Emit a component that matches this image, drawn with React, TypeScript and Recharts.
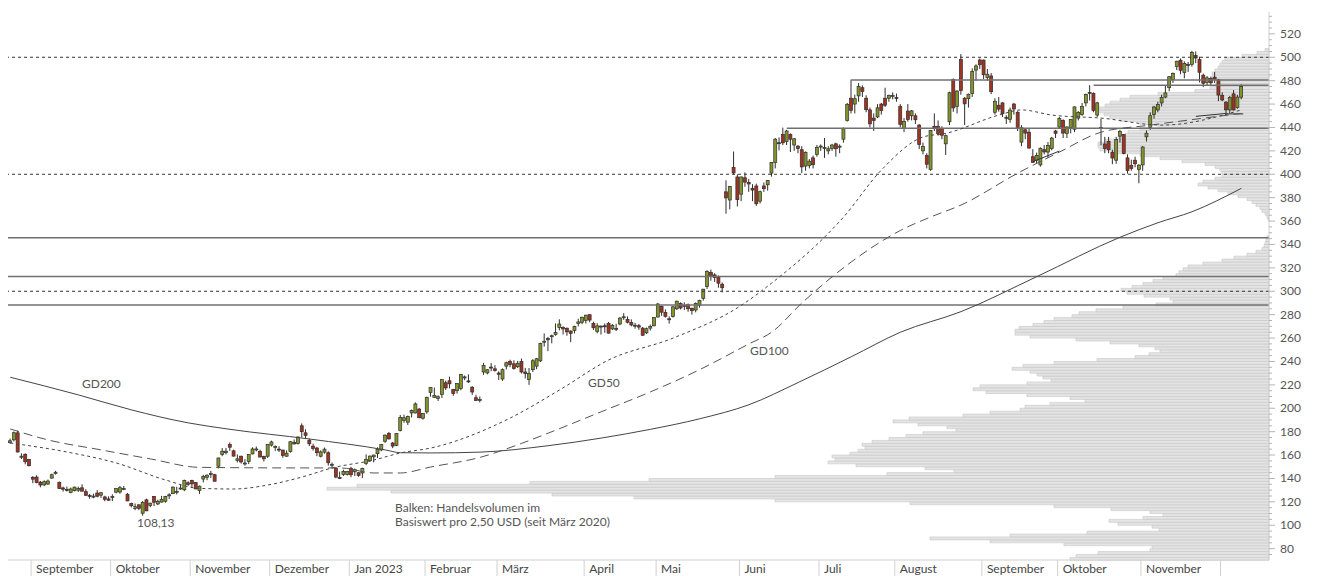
import React from 'react';
import {
  ComposedChart,
  Bar,
  Line,
  XAxis,
  YAxis,
  ReferenceLine,
  ReferenceArea,
} from 'recharts';

// Tageskerzen [open, high, low, close], ein Array pro Monat
const aug22 = [
  [170.6, 174.1, 169.7, 172.2], [173.0, 180.1, 171.6, 179.1], [179.0, 180.9, 162.3, 162.6],
  [158.6, 161.4, 156.6, 159.0], [160.7, 161.4, 152.1, 154.3], [156.2, 156.6, 150.3, 150.9],
];
const sep22 = [
  [141.0, 142.0, 136.0, 139.4], [141.2, 142.7, 135.9, 136.5], [136.9, 137.8, 132.4, 134.4],
  [134.5, 138.4, 133.4, 137.2], [135.2, 139.1, 134.6, 137.8], [140.3, 144.1, 139.8, 143.2],
  [144.2, 146.5, 143.3, 145.3], [136.7, 137.4, 131.2, 131.3], [131.9, 133.0, 128.8, 130.8],
  [130.7, 133.1, 128.8, 129.9], [128.1, 132.2, 127.3, 131.0], [129.5, 133.0, 129.0, 132.6],
  [130.0, 133.0, 128.5, 131.3], [132.0, 135.0, 129.0, 129.1], [128.7, 130.8, 125.1, 125.6],
  [125.5, 126.8, 122.6, 125.2], [124.4, 127.0, 123.1, 124.9], [127.5, 130.0, 123.9, 124.8],
  [125.7, 128.3, 123.4, 127.8], [124.2, 125.2, 120.5, 122.2], [122.5, 124.7, 120.8, 121.4],
];
const oct22 = [
  [123.7, 126.4, 120.6, 124.5], [128.3, 131.5, 127.2, 131.3], [128.4, 133.5, 126.9, 132.1],
  [130.7, 133.5, 130.0, 131.4], [126.5, 127.5, 120.6, 120.8], [118.5, 119.3, 115.3, 116.7],
  [114.4, 118.6, 112.9, 115.9], [117.5, 117.6, 112.9, 114.5], [110.3, 120.6, 108.13, 119.6],
  [121.7, 122.7, 112.1, 112.3], [116.9, 119.2, 115.4, 118.9], [124.7, 125.0, 116.4, 119.7],
  [118.2, 121.9, 117.2, 120.5], [119.8, 125.1, 119.4, 121.9], [120.5, 125.1, 119.3, 124.7],
  [125.2, 127.4, 122.4, 126.0], [127.0, 133.2, 126.7, 132.6], [128.5, 132.9, 126.3, 129.0],
  [131.8, 134.9, 130.3, 131.8], [130.3, 139.0, 129.1, 138.3], [136.3, 137.6, 133.7, 135.0],
];
const nov22 = [
  [138.3, 138.9, 132.6, 135.4], [136.5, 136.8, 130.9, 131.0], [129.7, 134.0, 126.8, 133.4],
  [139.5, 143.1, 136.6, 141.6], [141.0, 143.5, 138.5, 142.8], [143.5, 146.5, 140.5, 144.3],
  [143.2, 144.0, 137.4, 137.6], [150.5, 157.8, 148.6, 157.5], [160.6, 166.0, 159.0, 163.3],
  [162.0, 166.0, 160.5, 163.3], [169.0, 170.8, 163.6, 166.7], [163.6, 164.6, 158.7, 159.1],
  [155.5, 160.5, 153.7, 156.8], [159.0, 159.5, 152.7, 154.1], [153.2, 156.5, 150.9, 153.2],
  [154.5, 160.6, 152.3, 160.4], [161.0, 166.6, 160.6, 165.2], [164.5, 167.3, 163.2, 165.2],
  [163.2, 164.6, 158.1, 158.3], [158.9, 159.5, 154.5, 156.8], [159.0, 169.4, 157.5, 169.2],
];
const dec22 = [
  [168.5, 172.3, 167.3, 171.2], [166.8, 168.3, 163.6, 167.3], [165.1, 167.5, 162.6, 164.5],
  [164.3, 164.5, 157.7, 159.7], [159.0, 164.0, 158.5, 161.6], [163.0, 172.0, 162.0, 171.4],
  [170.9, 173.3, 169.1, 169.5], [170.0, 176.0, 169.0, 175.4], [185.0, 187.0, 175.0, 180.0],
  [179.0, 182.0, 174.5, 176.8], [172.5, 174.2, 167.6, 169.6], [167.6, 169.7, 163.8, 165.6],
  [166.0, 167.0, 159.0, 162.0], [159.0, 164.0, 158.0, 162.7], [162.5, 166.4, 161.2, 165.0],
  [162.0, 163.2, 150.9, 153.4], [152.0, 153.6, 148.6, 152.1], [148.8, 149.5, 140.2, 141.2],
  [140.7, 145.9, 139.7, 140.4], [143.4, 147.5, 142.1, 146.0], [143.5, 146.2, 142.5, 146.1],
];
const jan23 = [
  [148.5, 150.0, 141.0, 143.2], [145.7, 148.5, 142.0, 147.5], [144.9, 145.3, 141.4, 142.6],
  [144.7, 149.2, 140.3, 148.6], [152.8, 160.6, 151.4, 156.3], [155.1, 159.6, 154.1, 159.1],
  [158.5, 160.3, 153.7, 160.0], [161.2, 166.6, 157.5, 165.1], [164.4, 169.3, 163.2, 169.0],
  [171.8, 177.6, 170.4, 177.0], [178.5, 179.8, 173.3, 173.8], [170.3, 171.1, 165.9, 167.7],
  [168.3, 178.6, 167.6, 178.4], [180.9, 194.3, 180.2, 192.2], [189.5, 194.5, 187.6, 191.9],
  [188.1, 193.7, 185.7, 193.1], [196.0, 199.0, 192.1, 198.0], [196.0, 205.0, 195.6, 203.7],
  [199.3, 200.3, 191.5, 191.9], [191.5, 196.0, 190.3, 195.4],
];
const feb23 = [
  [196.9, 209.8, 195.3, 209.4], [213.5, 218.0, 209.9, 217.9], [209.2, 217.7, 209.2, 211.0],
  [208.4, 211.0, 206.2, 209.9], [211.9, 224.8, 208.8, 224.5], [221.8, 223.6, 215.7, 217.4],
  [223.5, 227.0, 217.0, 220.9], [216.0, 216.6, 210.6, 212.6], [215.0, 221.5, 212.5, 221.3],
  [216.9, 229.4, 215.4, 228.9], [226.3, 228.0, 224.0, 226.8], [223.4, 229.0, 221.6, 222.8],
  [218.0, 218.9, 211.4, 213.9], [209.0, 211.5, 206.5, 206.6], [207.0, 210.0, 205.0, 207.5],
  [231.0, 238.8, 228.5, 236.6], [230.2, 233.4, 229.0, 232.9], [235.2, 238.6, 231.6, 234.4],
  [233.7, 236.8, 231.3, 232.2],
];
const mar23 = [
  [230.1, 231.6, 224.2, 229.0], [225.0, 234.0, 223.5, 233.0], [236.0, 239.9, 233.2, 238.9],
  [240.0, 241.5, 235.1, 237.3], [238.0, 241.0, 233.0, 234.0], [235.5, 240.5, 234.4, 238.5],
  [240.0, 242.5, 229.7, 231.0], [231.0, 234.5, 225.5, 229.6], [224.5, 234.4, 220.0, 229.6],
  [233.0, 242.0, 231.0, 240.6], [236.0, 243.0, 233.4, 242.3], [240.5, 256.0, 239.5, 255.4],
  [256.5, 263.9, 252.7, 257.3], [259.5, 261.0, 248.8, 258.5], [261.5, 263.0, 255.5, 262.0],
  [263.0, 272.5, 262.0, 264.7], [269.0, 276.0, 266.6, 272.0], [269.0, 270.0, 263.0, 267.8],
  [268.4, 269.0, 262.0, 265.3], [266.0, 266.5, 256.5, 264.0], [266.5, 270.5, 264.0, 269.8],
  [272.5, 276.5, 270.0, 273.8], [273.5, 278.3, 271.8, 277.8],
];
const apr23 = [
  [275.0, 279.8, 272.4, 279.6], [280.0, 280.2, 273.5, 275.4], [272.4, 274.0, 266.9, 268.8],
  [265.5, 272.7, 264.0, 270.4], [270.3, 270.5, 263.0, 269.4], [270.5, 272.5, 264.5, 270.3],
  [272.5, 273.7, 263.8, 264.2], [267.8, 272.0, 266.8, 270.9], [268.2, 272.2, 266.0, 268.3],
  [272.0, 278.0, 271.0, 277.0], [278.0, 281.3, 275.5, 278.2], [276.0, 278.5, 272.6, 273.5],
  [273.4, 276.0, 270.0, 271.2], [271.0, 273.0, 268.0, 270.5], [270.6, 272.0, 267.0, 269.4],
  [268.5, 269.5, 262.0, 262.4], [264.5, 269.0, 263.5, 268.0], [268.5, 271.5, 266.5, 270.0],
  [270.5, 277.8, 270.0, 277.5],
];
const may23 = [
  [278.0, 290.0, 277.5, 289.1], [287.0, 288.0, 279.0, 282.1], [282.0, 284.5, 277.5, 278.5],
  [276.5, 278.5, 272.4, 275.9], [278.5, 287.5, 277.5, 286.7], [285.0, 292.0, 284.0, 291.5],
  [289.5, 290.5, 284.5, 285.7], [288.0, 290.5, 284.0, 287.6], [288.5, 289.5, 282.5, 285.0],
  [285.5, 286.0, 280.0, 283.4], [284.0, 290.5, 282.0, 289.5], [288.0, 292.7, 286.0, 292.1],
  [294.0, 302.0, 292.0, 301.8], [304.0, 318.0, 302.0, 316.8], [316.0, 318.5, 309.0, 312.6],
  [314.0, 315.5, 308.0, 311.8], [312.0, 313.5, 303.0, 306.9], [306.0, 307.5, 299.0, 303.0],
  [385.0, 394.8, 366.3, 379.8], [378.0, 390.0, 370.0, 389.5], [405.9, 419.4, 400.0, 401.1],
  [397.7, 400.0, 372.5, 378.3],
];
const jun23 = [
  [383.0, 398.0, 377.0, 397.7], [397.0, 401.6, 389.3, 393.3], [393.0, 396.0, 385.0, 391.7],
  [388.0, 391.5, 377.0, 386.5], [390.0, 392.0, 373.0, 374.8], [377.0, 386.0, 375.0, 385.1],
  [390.0, 393.0, 385.0, 387.7], [391.0, 395.0, 386.0, 394.8], [401.0, 410.5, 398.0, 410.2],
  [410.0, 431.0, 405.0, 430.0], [427.0, 431.5, 420.4, 426.5], [434.0, 439.9, 425.0, 426.9],
  [428.0, 438.0, 425.0, 437.0], [434.0, 435.0, 419.0, 430.0], [425.0, 431.0, 420.0, 430.3],
  [424.0, 425.0, 418.0, 422.1], [421.0, 424.0, 401.0, 406.3], [407.0, 419.5, 403.0, 418.8],
  [407.5, 413.0, 405.0, 411.2], [414.0, 416.0, 405.0, 408.2], [417.0, 425.0, 415.0, 423.0],
];
const jul23 = [
  [424.0, 425.5, 420.0, 424.1], [422.0, 431.0, 414.0, 423.0], [420.0, 424.0, 417.0, 421.8],
  [422.0, 426.0, 420.0, 425.0], [426.0, 427.0, 415.0, 421.8], [424.0, 425.5, 418.0, 424.0],
  [430.0, 440.0, 427.0, 438.9], [446.0, 461.0, 445.0, 459.8], [465.0, 480.9, 452.0, 454.7],
  [460.0, 468.0, 452.0, 464.6], [467.0, 478.0, 462.0, 474.9], [474.0, 476.0, 466.0, 470.8],
  [465.0, 467.5, 453.0, 455.2], [455.0, 457.0, 440.0, 443.1], [448.0, 452.0, 437.0, 446.1],
  [449.0, 460.0, 448.0, 456.8], [460.0, 461.0, 451.0, 454.5], [465.0, 474.0, 457.5, 459.0],
  [465.0, 468.0, 462.0, 467.5], [467.0, 470.0, 464.0, 467.3],
];
const aug23 = [
  [465.5, 469.0, 462.0, 465.1], [458.0, 460.0, 440.0, 442.7], [439.0, 448.0, 436.0, 445.2],
  [454.0, 460.0, 445.0, 446.8], [450.0, 455.0, 446.0, 454.2], [450.0, 452.0, 443.0, 446.6],
  [442.0, 443.0, 421.5, 425.5], [420.0, 427.0, 417.0, 423.9], [416.0, 418.0, 405.0, 408.6],
  [404.0, 437.9, 403.0, 437.5], [441.0, 452.0, 437.0, 439.4], [441.0, 446.0, 433.0, 434.9],
  [439.0, 441.0, 430.0, 433.4], [426.0, 434.0, 416.5, 433.0], [444.9, 470.6, 442.0, 469.7],
  [481.0, 481.9, 453.4, 456.7], [458.0, 471.6, 452.0, 471.2], [498.0, 502.7, 468.0, 471.6],
  [465.0, 466.0, 442.0, 460.2], [464.6, 469.0, 457.0, 468.4], [469.0, 490.5, 466.0, 487.8],
  [489.0, 494.0, 480.0, 492.6], [497.7, 499.0, 490.0, 493.6],
];
const sep23 = [
  [497.6, 498.0, 481.5, 485.1], [482.6, 490.0, 480.0, 485.5], [484.0, 486.5, 468.5, 470.6],
  [453.0, 465.0, 451.0, 462.4], [459.0, 466.0, 453.5, 455.7], [461.0, 461.5, 449.0, 451.8],
  [448.0, 450.5, 443.0, 448.7], [447.0, 457.0, 444.0, 454.9], [460.0, 461.0, 451.0, 455.8],
  [453.0, 454.0, 437.0, 439.0], [427.5, 442.0, 424.0, 439.7], [438.0, 439.5, 430.0, 435.2],
  [436.0, 439.0, 422.0, 422.4], [415.0, 421.5, 410.0, 410.2], [412.0, 418.5, 409.0, 416.1],
  [408.0, 423.0, 406.5, 422.2], [421.0, 425.0, 417.0, 419.1], [419.0, 427.5, 414.0, 424.7],
  [422.0, 432.0, 420.5, 430.9], [437.0, 438.0, 431.0, 435.0],
];
const oct23 = [
  [440.3, 449.0, 439.0, 447.8], [446.0, 447.0, 431.0, 435.2], [435.0, 441.0, 431.0, 440.4],
  [440.0, 447.0, 435.0, 446.9], [438.5, 458.0, 436.0, 457.6], [448.0, 454.0, 446.0, 452.7],
  [451.0, 461.0, 450.0, 458.0], [461.0, 469.0, 458.0, 468.1], [470.0, 476.1, 463.0, 469.5],
  [469.0, 470.0, 453.0, 454.6], [450.6, 462.0, 449.0, 461.0], [440.0, 447.5, 424.8, 439.4],
  [425.9, 432.0, 418.0, 422.0], [428.0, 432.0, 418.0, 421.0], [418.9, 421.0, 408.6, 413.9],
  [412.0, 432.0, 409.0, 429.8], [432.6, 438.0, 427.0, 436.6], [434.0, 434.5, 417.0, 417.8],
  [414.0, 417.0, 400.5, 403.3], [407.5, 412.5, 403.0, 405.0], [412.0, 415.0, 406.0, 409.0],
  [404.0, 408.5, 392.3, 407.8],
];
const nov23 = [
  [408.0, 424.0, 403.0, 423.3], [432.0, 437.5, 428.0, 435.1], [440.0, 453.0, 438.0, 450.1],
  [451.0, 458.5, 447.5, 457.5], [455.0, 462.0, 453.0, 459.6], [461.0, 468.0, 458.0, 465.7],
  [466.0, 476.0, 465.0, 469.5], [474.0, 484.0, 471.0, 483.4], [481.0, 487.0, 478.0, 486.2],
  [492.0, 497.0, 489.0, 496.6], [497.5, 499.0, 485.5, 488.9], [487.0, 496.5, 482.0, 494.8],
  [494.0, 496.0, 487.5, 493.0], [494.0, 505.5, 492.0, 504.1], [501.5, 505.0, 495.0, 499.4],
  [498.0, 500.5, 478.5, 487.2], [484.7, 486.0, 474.5, 477.8], [478.4, 484.0, 476.0, 482.4],
  [482.0, 483.5, 475.5, 478.2], [483.0, 487.5, 478.0, 481.4], [480.8, 481.5, 462.5, 467.7],
];
const dec23 = [
  [467.5, 470.0, 462.5, 463.5], [461.6, 462.5, 450.0, 455.1], [455.0, 467.0, 452.0, 465.7],
  [468.7, 472.0, 454.5, 455.0], [457.0, 468.0, 456.0, 466.0], [465.9, 477.0, 464.0, 475.1],
];

const candles = [
  ...aug22, ...sep22, ...oct22, ...nov22, ...dec22, ...jan23, ...feb23, ...mar23, ...apr23,
  ...may23, ...jun23, ...jul23, ...aug23, ...sep23, ...oct23, ...nov23, ...dec23,
];

// erster Handelstag (Index) jedes Monats und Beschriftung
const monthStarts = [6, 27, 48, 69, 90, 110, 129, 152, 171, 193, 214, 234, 257, 277, 299, 320];
const monthLabels = [
  'September', 'Oktober', 'November', 'Dezember', 'Jan 2023', 'Februar', 'März', 'April',
  'Mai', 'Juni', 'Juli', 'August', 'September', 'Oktober', 'November', '',
];

const gd50Days = [0, 15, 28, 41, 50, 59, 68, 77, 85, 96, 103, 111, 132, 145, 158, 175, 193, 201, 220, 230, 241, 247, 261, 267, 275, 288, 304, 325];
const gd50Values = [170.3, 162.6, 153.2, 138.7, 131.5, 131, 134.4, 141.2, 149, 155.8, 161.8, 166, 191.7, 215.6, 241.3, 260, 288, 307, 363.5, 403.7, 431.9, 435, 450.6, 455, 450.6, 448, 442, 455];
const gd100Days = [0, 10, 24, 37, 50, 76, 87, 96, 103, 111, 124, 135, 143, 156, 169, 182, 195, 201, 209, 222, 235, 243, 251, 266, 277, 288, 301, 325];
const gd100Values = [182.3, 172.9, 164.4, 156.7, 149.5, 149, 149, 144.7, 144.7, 149.8, 158, 170, 180, 197, 214, 233, 255, 265, 290, 325, 352, 363.5, 373.7, 401, 419, 436, 442, 452];
const gd200Days = [0, 18, 32, 47, 58, 79, 99, 103, 111, 124, 142, 156, 169, 182, 195, 208, 222, 235, 251, 271, 293, 303, 312, 325];
const gd200Values = [226.5, 211.4, 198.6, 187.5, 182, 173.7, 164.4, 162, 161.8, 162.5, 168, 174.5, 182, 191, 203, 222, 244, 265, 282.6, 312.5, 346.2, 358.6, 368, 388];

// Handelsvolumen pro 2,50 USD ab 70 USD (relative Einheiten, Vollausschlag = 1261)
const volumeBase = 70;
const volumeStep = 2.5;
const volumeFull = 1261;
const volumeProfile = [
  199, 193, 171, 119, 117, 205, 279, 339, 259, 182, 110, 117, 151, 160, 126, 106, 119, 158, 215, 359,
  494, 635, 717, 878, 942, 912, 739, 620, 494, 382, 315, 344, 413, 441, 434, 437, 419, 411, 404, 407,
  397, 380, 363, 346, 313, 322, 351, 376, 360, 306, 279, 249, 244, 219, 184, 199, 242, 283, 296, 289,
  242, 218, 226, 232, 239, 257, 246, 215, 172, 134, 120, 109, 114, 130, 159, 193, 239, 254, 254, 250,
  236, 225, 215, 197, 190, 173, 146, 113, 96, 99, 125, 142, 148, 137, 126, 116, 106, 93, 90, 86,
  81, 66, 47, 35, 22, 13, 7, 5, 4, 3, 2, 0, 0, 0, 0, 0, 1, 2, 4, 7,
  9, 13, 17, 22, 31, 41, 51, 61, 71, 66, 54, 47, 47, 49, 54, 64, 87, 109, 129, 154,
  169, 171, 171, 164, 151, 144, 141, 129, 111, 129, 149, 159, 165, 169, 171, 164, 159, 149, 139, 111,
  74, 59, 54, 51, 54, 57, 57, 54, 51, 49, 47, 44, 27, 12, 4,
];

const yTicks: number[] = [];
for (let v = 75; v <= 535; v += 5) yTicks.push(v);

const data = candles.map(([o, h, l, c], i) => ({
  i, o, h, l, c,
  range: [l, h],
  gd50: null as number | null,
  gd100: null as number | null,
  gd200: null as number | null,
}));
gd50Days.forEach((d, k) => { data[d].gd50 = gd50Values[k]; });
gd100Days.forEach((d, k) => { data[d].gd100 = gd100Values[k]; });
gd200Days.forEach((d, k) => { data[d].gd200 = gd200Values[k]; });

const X_MIN = -0.6;
const X_MAX = 332.3;
// Volumenbalken wachsen vom rechten Rand nach links, auf der Zeitachse gemessen
const volToX = (v: number) => X_MAX - (v / volumeFull) * (X_MAX - X_MIN);

const Candle = (props: any) => {
  const { x, y, width, height, payload } = props;
  if (x == null || y == null || !payload) return null;
  const { o, h, l, c } = payload;
  const top = Math.min(y, y + height);
  const span = Math.abs(height);
  const k = h > l ? span / (h - l) : 0;
  const cx = x + width / 2;
  const yO = top + (h - o) * k;
  const yC = top + (h - c) * k;
  const up = c >= o;
  return (
    <g>
      <line x1={cx} x2={cx} y1={top} y2={top + span} stroke="#2e2e2e" strokeWidth={1} />
      <rect
        x={cx - 1.5}
        y={Math.min(yO, yC)}
        width={3}
        height={Math.max(Math.abs(yC - yO), 1)}
        fill={up ? '#84952a' : '#a3321f'}
        stroke="#2e2e2e"
        strokeWidth={0.7}
      />
    </g>
  );
};

const YTick = ({ x, y, payload }: any) => {
  const v = payload.value;
  const major = v % 20 === 0;
  return (
    <g>
      <line x1={x} x2={x + (major ? 6 : 3)} y1={y} y2={y} stroke="#b5b5b5" />
      {major && (
        <text x={x + 11} y={y + 4} fontSize={12} fill="#555">{v}</text>
      )}
    </g>
  );
};

const XTick = ({ x, y, payload }: any) => {
  const k = monthStarts.indexOf(payload.value + 0.5);
  return (
    <g>
      <line x1={x} x2={x} y1={y} y2={y + 18} stroke="#d0d0d0" />
      <text x={x + 5} y={y + 13} fontSize={12} fill="#444">{monthLabels[k]}</text>
    </g>
  );
};

const label = (left: number, top: number): React.CSSProperties => ({
  position: 'absolute', left, top, fontSize: 12, color: '#555', lineHeight: '14px', whiteSpace: 'nowrap',
});

export default function App() {
  return (
    <div style={{ position: 'absolute', left: 0, top: 0, width: 1341, height: 576, background: '#fff', fontFamily: 'Lato, "Open Sans", sans-serif', overflow: 'hidden' }}>
      <ComposedChart width={1341} height={576} data={data} margin={{ top: 12, right: 0, bottom: 0, left: 8 }}>
        <XAxis
          dataKey="i"
          type="number"
          domain={[X_MIN, X_MAX]}
          allowDataOverflow
          ticks={monthStarts.map((m) => m - 0.5)}
          interval={0}
          tick={<XTick />}
          tickLine={false}
          tickSize={0}
          tickMargin={0}
          height={16}
          axisLine={{ stroke: '#d0d0d0' }}
        />
        <YAxis
          orientation="right"
          type="number"
          domain={[70.3, 538.7]}
          allowDataOverflow
          ticks={yTicks}
          interval={0}
          tick={<YTick />}
          tickLine={false}
          tickSize={0}
          tickMargin={0}
          width={72}
          axisLine={{ stroke: '#cfcfcf' }}
        />

        {volumeProfile.map((v, k) =>
          v > 0 ? (
            <ReferenceArea
              key={`vp-${k}`}
              x1={volToX(v)}
              x2={X_MAX}
              y1={volumeBase + k * volumeStep}
              y2={volumeBase + (k + 1) * volumeStep}
              fill="#e4e4e4"
              fillOpacity={1}
              stroke="#c6c6c6"
              strokeWidth={0.6}
              ifOverflow="visible"
            />
          ) : null
        )}

        <ReferenceLine y={500} stroke="#333" strokeDasharray="3 3" />
        <ReferenceLine y={400} stroke="#333" strokeDasharray="3 3" />
        <ReferenceLine y={300} stroke="#333" strokeDasharray="3 3" />
        <ReferenceLine y={345.8} stroke="#707070" strokeWidth={1.5} />
        <ReferenceLine y={312.6} stroke="#707070" strokeWidth={1.5} />
        <ReferenceLine y={288.2} stroke="#707070" strokeWidth={1.5} />
        <ReferenceLine segment={[{ x: 222, y: 480.6 }, { x: X_MAX, y: 480.6 }]} stroke="#707070" strokeWidth={1.5} />
        <ReferenceLine segment={[{ x: 286, y: 476.1 }, { x: X_MAX, y: 476.1 }]} stroke="#707070" strokeWidth={1.5} />
        <ReferenceLine segment={[{ x: 205, y: 439.4 }, { x: X_MAX, y: 439.4 }]} stroke="#707070" strokeWidth={1.5} />
        <ReferenceLine segment={[{ x: 270, y: 410.8 }, { x: 277, y: 419.9 }]} stroke="#333" strokeWidth={1} />
        <ReferenceLine segment={[{ x: 313, y: 449.5 }, { x: 321, y: 452 }]} stroke="#333" strokeWidth={1} />
        <ReferenceLine segment={[{ x: 321, y: 451.6 }, { x: 325.5, y: 451.6 }]} stroke="#333" strokeWidth={1} />

        <Line dataKey="gd200" type="monotone" connectNulls dot={false} stroke="#444" strokeWidth={1} isAnimationActive={false} />
        <Line dataKey="gd100" type="monotone" connectNulls dot={false} stroke="#555" strokeWidth={1} strokeDasharray="9 5" isAnimationActive={false} />
        <Line dataKey="gd50" type="monotone" connectNulls dot={false} stroke="#444" strokeWidth={1} strokeDasharray="3 3" isAnimationActive={false} />

        <Bar dataKey="range" barSize={4} shape={<Candle />} isAnimationActive={false} />
      </ComposedChart>

      <div style={label(82, 377)}>GD200</div>
      <div style={label(588, 376)}>GD50</div>
      <div style={label(750, 344)}>GD100</div>
      <div style={label(137, 516)}>108,13</div>
      <div style={label(395, 501)}>Balken: Handelsvolumen im</div>
      <div style={label(395, 515)}>Basiswert pro 2,50 USD (seit März 2020)</div>
    </div>
  );
}
